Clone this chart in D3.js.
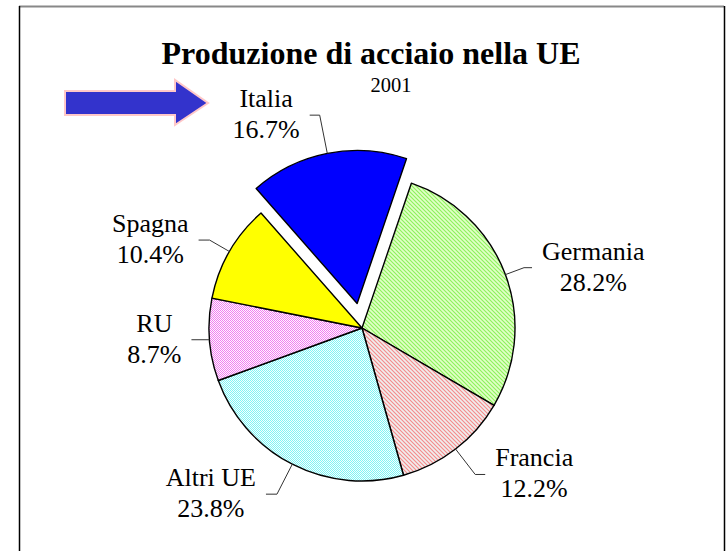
<!DOCTYPE html>
<html>
<head>
<meta charset="utf-8">
<script src="https://cdn.jsdelivr.net/npm/d3@7/dist/d3.min.js"></script>
<style>
  body { margin: 0; background: #fff; }
  svg { display: block; }
  text { font-family: 'Liberation Serif', 'Times New Roman', serif; fill: #000; }
</style>
</head>
<body>
<div class="chart-container"></div>
<script>
// data
const categories = ['Italia', 'Germania', 'Francia', 'Altri UE', 'RU', 'Spagna'];
const shares = [16.7, 28.2, 12.2, 23.8, 8.7, 10.4];
const highlighted = 'Italia';

const chartTitle = 'Produzione di acciaio nella UE';
const chartSubtitle = '2001';

// layout
const width = 726;
const height = 551;
const cx = 362;
const cy = 328;
const radius = 153;
const startDeg = -41.3;
const explode = 25;
const labelSize = 26;
const lineStep = 31;
const textGap = 10;

// leader line: elbow distance (x radius) and horizontal tail, per slice
const leaderReach = [1.255, 1.13, 1.21, 1.22, 1.0, 1.15];
const leaderTail = [10, 8, 10, 11, 18, 11];

const fills = {
    'Italia': '#0000ff',
    'Germania': 'url(#hatch-green)',
    'Francia': 'url(#hatch-red)',
    'Altri UE': 'url(#dots-cyan)',
    'RU': 'url(#dots-pink)',
    'Spagna': '#ffff00'
};

const svg = d3.select('.chart-container')
    .append('svg')
    .attr('width', width)
    .attr('height', height);

// patterns
const defs = svg.append('defs');

function hatch(id, bg, fg) {
    const p = defs.append('pattern')
        .attr('id', id)
        .attr('patternUnits', 'userSpaceOnUse')
        .attr('width', 4)
        .attr('height', 4);
    p.append('rect').attr('width', 4).attr('height', 4).attr('fill', bg);
    p.append('path')
        .attr('d', 'M-1,-1 L5,5 M-1,3 L1,5 M3,-1 L5,1')
        .attr('stroke', fg)
        .attr('stroke-width', 1.1);
}

function dots(id, bg, fg) {
    const p = defs.append('pattern')
        .attr('id', id)
        .attr('patternUnits', 'userSpaceOnUse')
        .attr('width', 2)
        .attr('height', 2);
    p.append('rect').attr('width', 2).attr('height', 2).attr('fill', bg);
    p.append('rect').attr('width', 1).attr('height', 1).attr('fill', fg);
    p.append('rect').attr('x', 1).attr('y', 1).attr('width', 1).attr('height', 1).attr('fill', fg);
}

hatch('hatch-green', '#e2ffc8', '#8cf25a');
hatch('hatch-red', '#f0eeee', '#f58a8a');
dots('dots-cyan', '#f4ffff', '#80f4f4');
dots('dots-pink', '#fff4ff', '#f080f0');

// frame
svg.append('line')
    .attr('x1', 19).attr('x2', 724)
    .attr('y1', 6.5).attr('y2', 6.5)
    .attr('stroke', '#888')
    .attr('stroke-width', 2);
svg.append('line')
    .attr('x1', 19.5).attr('x2', 19.5)
    .attr('y1', 6).attr('y2', height)
    .attr('stroke', '#000')
    .attr('stroke-width', 1.5);
svg.append('line')
    .attr('x1', 724.5).attr('x2', 724.5)
    .attr('y1', 6).attr('y2', height)
    .attr('stroke', '#000')
    .attr('stroke-width', 1.5);

// titles
svg.append('text')
    .attr('x', 371)
    .attr('y', 64)
    .attr('text-anchor', 'middle')
    .style('font-size', '32px')
    .style('font-weight', 'bold')
    .text(chartTitle);

svg.append('text')
    .attr('x', 391)
    .attr('y', 92)
    .attr('text-anchor', 'middle')
    .style('font-size', '20.5px')
    .text(chartSubtitle);

// arrow pointing at the highlighted slice label
svg.append('path')
    .attr('d', 'M65,91 L175,91 L175,80 L208,103 L175,125 L175,115 L65,115 Z')
    .attr('fill', '#3333cc')
    .attr('stroke', '#ffc8c8')
    .attr('stroke-width', 2)
    .attr('stroke-linejoin', 'miter');

// pie
const toRad = Math.PI / 180;
const pie = d3.pie()
    .sort(null)
    .value(d => d.value)
    .startAngle(startDeg * toRad)
    .endAngle((startDeg + 360) * toRad);

const arc = d3.arc()
    .innerRadius(0)
    .outerRadius(radius);

const slices = pie(categories.map((c, i) => ({ name: c, value: shares[i], idx: i })));

function offsetOf(d) {
    if (d.data.name !== highlighted) return [0, 0];
    const mid = (d.startAngle + d.endAngle) / 2;
    return [Math.sin(mid) * explode, -Math.cos(mid) * explode];
}

const pieG = svg.append('g')
    .attr('transform', `translate(${cx},${cy})`);

pieG.selectAll('path.slice')
    .data(slices)
    .enter().append('path')
    .attr('class', 'slice')
    .attr('transform', d => `translate(${offsetOf(d)[0]},${offsetOf(d)[1]})`)
    .attr('d', arc)
    .attr('fill', d => fills[d.data.name])
    .attr('stroke', '#000')
    .attr('stroke-width', 1.4)
    .attr('stroke-linejoin', 'round');

// leader lines + labels
const fmt = d3.format('.1f');

slices.forEach((d, i) => {
    const mid = (d.startAngle + d.endAngle) / 2;
    const off = offsetOf(d);
    const ux = Math.sin(mid), uy = -Math.cos(mid);
    const rimX = cx + off[0] + ux * radius;
    const rimY = cy + off[1] + uy * radius;
    const elbX = cx + off[0] + ux * radius * leaderReach[i];
    const elbY = cy + off[1] + uy * radius * leaderReach[i];
    const side = ux >= 0 ? 1 : -1;
    const endX = elbX + side * leaderTail[i];

    svg.append('path')
        .attr('d', d3.line()([[rimX, rimY], [elbX, elbY], [endX, elbY]]))
        .attr('fill', 'none')
        .attr('stroke', '#333')
        .attr('stroke-width', 1);

    const lines = [d.data.name, fmt(d.data.value) + '%'];
    const t = svg.append('text')
        .attr('text-anchor', 'middle')
        .style('font-size', labelSize + 'px');
    const spans = lines.map((s, k) => t.append('tspan')
        .attr('y', elbY - 8 + k * lineStep)
        .text(s));
    const w = d3.max(spans, s => s.node().getComputedTextLength());
    const centerX = endX + side * (textGap + w / 2);
    spans.forEach(s => s.attr('x', centerX));
});
</script>
</body>
</html>
